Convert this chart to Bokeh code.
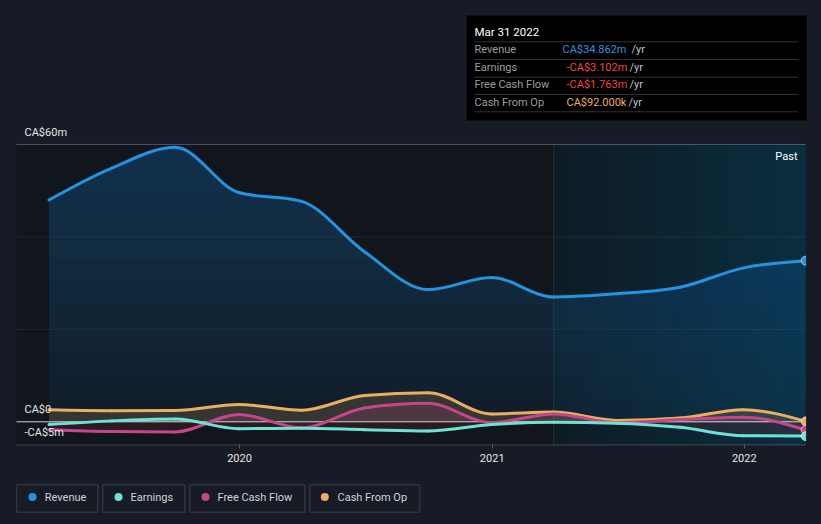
import numpy as np
import pandas as pd
from bokeh.plotting import figure
from bokeh.models import Range1d, FixedTicker, DatetimeTickFormatter
from bokeh.core.properties import value
from bokeh.embed import file_html
from bokeh.resources import INLINE

# ---------------- data (CA$ millions, trailing twelve months) ----------------
dates = ["2019-03-31", "2019-06-30", "2019-09-30", "2019-12-31",
         "2020-03-31", "2020-06-30", "2020-09-30", "2020-12-31",
         "2021-03-31", "2021-06-30", "2021-09-30", "2021-12-31",
         "2022-03-31"]
revenue = [48.0, 54.9, 59.4, 49.6, 47.7, 36.8, 28.6, 31.2, 27.0, 27.7, 29.1, 33.3, 34.862]
earnings = [-0.6, 0.2, 0.6, -1.5, -1.4, -1.7, -2.0, -0.6, -0.1, -0.3, -1.2, -3.0, -3.102]
free_cash_flow = [-1.7, -2.1, -2.2, 1.6, -1.3, 3.0, 4.0, -0.2, 1.7, -0.2, 0.5, 1.0, -1.763]
cash_from_op = [2.6, 2.4, 2.45, 3.75, 2.5, 5.7, 6.3, 1.7, 2.1, 0.3, 0.8, 2.6, 0.092]

series_names = ["Revenue", "Earnings", "Free Cash Flow", "Cash From Op"]
series_colors = ["#2394df", "#6ce3d4", "#c4468b", "#e9ae60"]

y_tick_values = [60, 0, -5]
y_tick_labels = ["CA$60m", "CA$0", "-CA$5m"]
y_grid_values = [20, 40]
x_tick_dates = ["2020-01-01", "2021-01-01", "2022-01-01"]

tooltip_title = "Mar 31 2022"
tooltip_values = ["CA$34.862m", "-CA$3.102m", "-CA$1.763m", "CA$92.000k"]
tooltip_value_colors = ["#2d95e0", "#f04444", "#f04444", "#e9ae60"]
past_label = "Past"

# ---------------- helpers ----------------
def to_ms(ds):
    return np.array(pd.to_datetime(ds).values.astype("datetime64[ms]").astype("int64"), dtype=float)

xd = to_ms(dates)
T2020 = to_ms(["2020-01-01"])[0]
PX_PER_DAY = 0.6905
DAY = 86400000.0
W, H = 821, 524


def X(px):  # page x pixel -> data x (for decorations only)
    return T2020 + (px - 239.0) / PX_PER_DAY * DAY


def Y(py):  # page y pixel -> data y (for decorations only)
    return (421.3 - py) / 4.622


def monotone_beziers(xs, ys):
    xs = np.asarray(xs, float)
    ys = np.asarray(ys, float)
    h = np.diff(xs)
    s = np.diff(ys) / h
    n = len(xs)
    t = np.zeros(n)
    for i in range(1, n - 1):
        h0, h1, s0, s1 = h[i - 1], h[i], s[i - 1], s[i]
        pp = (s0 * h1 + s1 * h0) / (h0 + h1)
        t[i] = (np.sign(s0) + np.sign(s1)) * min(abs(s0), abs(s1), 0.5 * abs(pp))
    t[0] = (3 * s[0] - t[1]) / 2
    t[-1] = (3 * s[-1] - t[-2]) / 2
    x0, x1, y0, y1 = xs[:-1], xs[1:], ys[:-1], ys[1:]
    return dict(x0=x0, y0=y0, x1=x1, y1=y1,
                cx0=x0 + h / 3, cy0=y0 + h / 3 * t[:-1],
                cx1=x1 - h / 3, cy1=y1 - h / 3 * t[1:])


def bezier_outline(b, n=24):
    # outline of the same curve, used only for the translucent fills beneath it
    u = np.linspace(0, 1, n)[:, None]
    bx = ((1 - u) ** 3) * b["x0"] + 3 * ((1 - u) ** 2) * u * b["cx0"] + 3 * (1 - u) * u ** 2 * b["cx1"] + u ** 3 * b["x1"]
    by = ((1 - u) ** 3) * b["y0"] + 3 * ((1 - u) ** 2) * u * b["cy0"] + 3 * (1 - u) * u ** 2 * b["cy1"] + u ** 3 * b["y1"]
    bx = bx.T
    by = by.T
    xs = np.concatenate([bx[0]] + [row[1:] for row in bx[1:]])
    ys = np.concatenate([by[0]] + [row[1:] for row in by[1:]])
    return xs, ys


def hexmix(c0, c1, f):
    a = [int(c0[i:i + 2], 16) for i in (1, 3, 5)]
    b = [int(c1[i:i + 2], 16) for i in (1, 3, 5)]
    return "#" + "".join("%02x" % int(round(a[k] + (b[k] - a[k]) * f)) for k in range(3))


FONT = value("Roboto")
BG = "#161b25"
PLOT_BG = "#11151c"

p = figure(width=W, height=H, x_axis_type="datetime", y_axis_location=None,
           x_range=Range1d(X(0), X(W)), y_range=Range1d(Y(H), Y(0)),
           output_backend="svg", toolbar_location=None, min_border=0,
           background_fill_color=BG, border_fill_color=BG, outline_line_color=None)
p.grid.visible = False

ymin, ymax = min(y_tick_values), max(y_tick_values)
xl, xr = X(16), xd[-1]

# plot area backgrounds
p.quad(left=[xl], right=[xr], bottom=[ymin], top=[ymax], color=PLOT_BG, line_color=None)
n_strips = 40
edges = np.linspace(xd[8], xd[-1], n_strips + 1)
step = edges[1] - edges[0]
p.quad(left=edges[:-1], right=np.minimum(edges[1:] + step, xd[-1]), bottom=ymin, top=ymax,
       color=[hexmix("#0e1b25", "#0a2e3f", (i + 0.5) / n_strips) for i in range(n_strips)],
       line_color=None)
p.segment(x0=[xd[8]], y0=[ymin], x1=[xd[8]], y1=[ymax], line_color="#20303b", line_width=1)

# grid lines
p.segment(x0=xl, y0=y_grid_values, x1=xr, y1=y_grid_values, line_color="#ffffff", line_alpha=0.07, line_width=1)
p.segment(x0=[xl], y0=[ymax], x1=[xr], y1=[ymax], line_color="#ffffff", line_alpha=0.25, line_width=1)
p.segment(x0=[xl], y0=[ymin], x1=[xr], y1=[ymin], line_color="#ffffff", line_alpha=0.2, line_width=1)

all_series = [revenue, earnings, free_cash_flow, cash_from_op]
beziers = [monotone_beziers(xd, s) for s in all_series]
outlines = [bezier_outline(b) for b in beziers]

# revenue area (vertical gradient approximated by stacked translucent layers)
rx, ry = outlines[0]
p.varea(x=rx, y1=0, y2=ry, fill_color=series_colors[0], fill_alpha=0.07)
for lvl in range(5, 60, 5):
    p.varea(x=rx, y1=lvl, y2=np.maximum(ry, lvl), fill_color=series_colors[0], fill_alpha=0.025)

# small series areas
for k in (3, 2, 1):
    sx, sy = outlines[k]
    p.varea(x=sx, y1=0, y2=np.maximum(sy, 0), fill_color=series_colors[k], fill_alpha=0.17)
    p.varea(x=sx, y1=np.minimum(sy, 0), y2=0, fill_color="#d8404f", fill_alpha=0.13)

# zero line
p.segment(x0=[xl], y0=[0], x1=[xr], y1=[0], line_color="#ffffff", line_alpha=0.8, line_width=1)

# series lines
for k in (3, 2, 1, 0):
    p.bezier(line_color=series_colors[k], line_width=3, line_cap="round", **beziers[k])

# end markers
for k in (3, 2, 1, 0):
    p.scatter(x=[xd[-1]], y=[all_series[k][-1]], size=9, fill_color=series_colors[k],
              line_color="#ffffff", line_alpha=0.6, line_width=1)

# clip anything past the plot's right edge
p.quad(left=[X(805.6)], right=[X(W)], bottom=[Y(H)], top=[Y(0)], color=BG, line_color=None)

# x axis drawn at the bottom of the plot area
p.xaxis.fixed_location = ymin
p.xaxis.ticker = FixedTicker(ticks=list(to_ms(x_tick_dates)))
p.xaxis.formatter = DatetimeTickFormatter(years="%Y", months="%Y", days="%Y", hours="%Y",
                                          hourmin="%Y", minutes="%Y", minsec="%Y", seconds="%Y",
                                          milliseconds="%Y", microseconds="%Y")
p.xaxis.axis_line_color = None
p.xaxis.major_tick_line_color = "#555a62"
p.xaxis.major_tick_out = 4
p.xaxis.major_tick_in = 0
p.xaxis.minor_tick_line_color = None
p.xaxis.major_label_text_color = "#e6e6e6"
p.xaxis.major_label_text_font = "Roboto"
p.xaxis.major_label_text_font_size = "11px"
p.xaxis.major_label_standoff = 5

# y labels
p.text(x=X(24), y=y_tick_values, text=y_tick_labels, text_font=FONT, text_font_size="11px",
       text_color="#e6e6e6", text_baseline="middle", text_align="left", y_offset=-12)

# "Past" label
p.text(x=[X(797)], y=[Y(156)], text=[past_label], text_font=FONT, text_font_size="11px",
       text_color="#ffffff", text_baseline="middle", text_align="right")

# tooltip box
p.quad(left=[X(466)], right=[X(806)], bottom=[Y(120)], top=[Y(15)], color="#000000", line_color=None)
sep_y = [Y(v) for v in (41.3, 59.0, 76.7, 94.0, 111.3)]
p.segment(x0=X(474), y0=sep_y, x1=X(798), y1=sep_y, line_color="#333333", line_width=1)
p.text(x=[X(474)], y=[Y(31)], text=[tooltip_title], text_font=FONT, text_font_size="11.5px",
       text_color="#ffffff", text_baseline="middle")
row_y = [Y(v) for v in (49.3, 66.5, 84.3, 101.7)]
p.text(x=X(474), y=row_y, text=series_names, text_font=FONT, text_font_size="11px",
       text_color="#9a9ea4", text_baseline="middle")
p.text(x=[X(562), X(566), X(566), X(566)], y=row_y, text=tooltip_values, text_font=FONT,
       text_font_size="11px", text_color=tooltip_value_colors, text_baseline="middle")
p.text(x=[X(631), X(629), X(629), X(628)], y=row_y, text=["/yr"] * 4, text_font=FONT,
       text_font_size="11px", text_color="#c4c4c4", text_baseline="middle")

# legend
box_l = [16.3, 102.3, 189.3, 309.3]
box_r = [97.3, 184.3, 304.3, 419.3]
dot_x = [32, 118, 205, 324.3]
txt_x = [44.3, 130, 217, 337]
p.quad(left=[X(v) for v in box_l], right=[X(v) for v in box_r], bottom=Y(511.7), top=Y(484.3),
       fill_color=None, line_color="#3b4049", line_width=1)
p.scatter(x=[X(v) for v in dot_x], y=Y(496.5), size=8, fill_color=series_colors, line_color=None)
p.text(x=[X(v) for v in txt_x], y=Y(497), text=series_names, text_font=FONT, text_font_size="11px",
       text_color="#cfd3d8", text_baseline="middle")

html = file_html(p, INLINE)
html = html.replace("</head>", "<style>html,body{background:#161b25;}</style></head>")
open("out.html", "w").write(html)
